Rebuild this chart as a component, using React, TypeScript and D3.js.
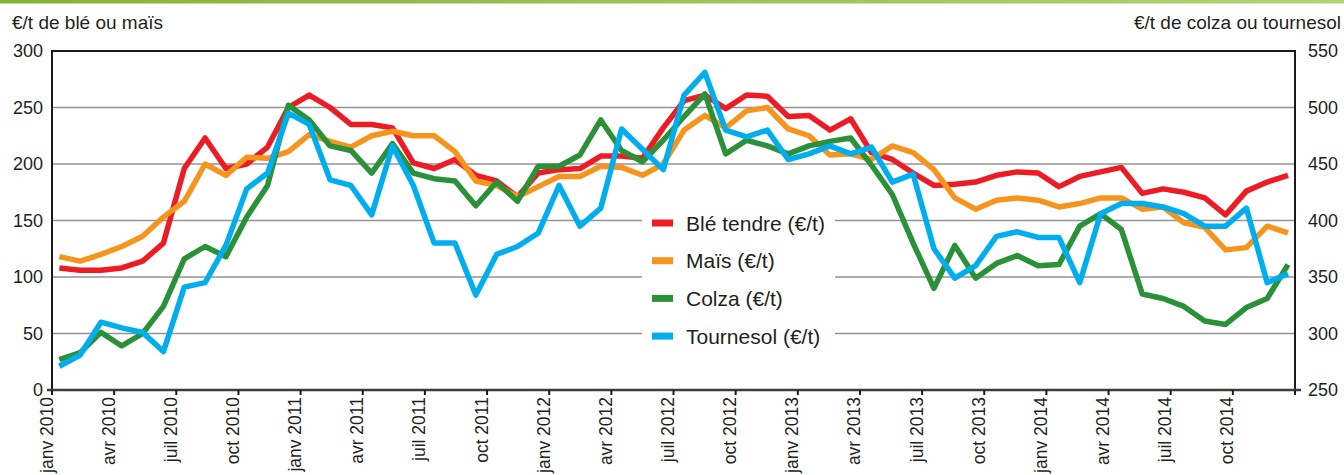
import React from "react";
import * as d3 from "d3";

// monthly prices, janv 2010 .. déc 2014
const quarterLabels = [
  "janv 2010", "avr 2010", "juil 2010", "oct 2010",
  "janv 2011", "avr 2011", "juil 2011", "oct 2011",
  "janv 2012", "avr 2012", "juil 2012", "oct 2012",
  "janv 2013", "avr 2013", "juil 2013", "oct 2013",
  "janv 2014", "avr 2014", "juil 2014", "oct 2014",
];

const ble = [
  108, 106, 106, 108, 114, 130, 196, 223, 196, 200, 215, 250,
  261, 250, 235, 235, 232, 201, 196, 204, 190, 185, 171, 192,
  195, 196, 207, 207, 205, 232, 256, 261, 249, 261, 260, 242,
  243, 230, 240, 210, 204, 192, 181, 182, 184, 190, 193, 192,
  180, 189, 193, 197, 174, 178, 175, 170, 155, 176, 184, 190,
];

const mais = [
  118, 114, 120, 127, 136, 153, 167, 200, 190, 206, 205, 211,
  226, 220, 215, 225, 229, 225, 225, 211, 185, 181, 171, 180,
  189, 189, 198, 197, 190, 200, 230, 243, 232, 247, 250, 231,
  225, 208, 209, 204, 216, 210, 195, 170, 160, 168, 170, 168,
  162, 165, 170, 170, 160, 162, 148, 144, 124, 126, 145, 139,
];

const colza = [
  277, 283, 301, 289, 300, 324, 366, 377, 368, 403, 431, 502,
  489, 466, 462, 442, 468, 442, 437, 435, 413, 434, 417, 448,
  448, 458, 489, 462, 452, 471, 492, 512, 459, 471, 466, 459,
  466, 470, 473, 449, 423, 380, 340, 378, 349, 362, 369, 360,
  361, 395, 406, 392, 335, 331, 324, 311, 308, 323, 331, 361,
];

const tournesol = [
  271, 281, 310, 305, 301, 284, 341, 345, 378, 428, 442, 495,
  485, 436, 431, 405, 466, 431, 380, 380, 334, 370, 377, 389,
  431, 395, 411, 481, 463, 445, 511, 531, 480, 474, 480, 454,
  459, 466, 459, 465, 434, 441, 375, 349, 360, 386, 390, 385,
  385, 345, 406, 415, 415, 412, 406, 395, 395, 411, 345, 353,
];

const series = [
  { name: "Blé tendre (€/t)", values: ble, axis: "left", color: "#ed1c24" },
  { name: "Maïs (€/t)", values: mais, axis: "left", color: "#f7941d" },
  { name: "Colza (€/t)", values: colza, axis: "right", color: "#2a9138" },
  { name: "Tournesol (€/t)", values: tournesol, axis: "right", color: "#00aeef" },
];

const FONT = "'Liberation Sans', Arial, Helvetica, sans-serif";
const TEXT = "#231f20";

export default function App() {
  const width = 1344;
  const height = 475;
  const left = 52;
  const right = 1295;
  const top = 51;
  const bottom = 390;

  const xMonth = d3.scaleLinear().domain([0, 60]).range([left, right]);
  const xPoint = d3.scaleLinear().domain([0, 59]).range([59.3, 1288]);
  const yLeft = d3.scaleLinear().domain([0, 300]).range([bottom, top]);
  const yRight = d3.scaleLinear().domain([250, 550]).range([bottom, top]);

  const line = (vals: number[], y: d3.ScaleLinear<number, number>) =>
    d3
      .line<number>()
      .x((_, i) => xPoint(i))
      .y((d) => y(d))(vals) as string;

  const leftTicks = yLeft.ticks(6);
  const rightTicks = yRight.ticks(6);
  const quarterIdx = d3.range(0, 61, 3);

  // legend box
  const lg = { x: 642, y: 198, w: 193, h: 156 };

  return (
    <svg
      width={width}
      height={height}
      style={{ position: "absolute", left: 0, top: 0, background: "#fff" }}
      fontFamily={FONT}
    >
      <defs>
        <linearGradient id="band" x1="0" x2="1" y1="0" y2="0">
          <stop offset="0" stopColor="#86b13a" />
          <stop offset="1" stopColor="#b4d174" />
        </linearGradient>
      </defs>
      <rect x={0} y={0} width={width} height={3.5} fill="url(#band)" />

      <text x={12} y={29} fontSize={19} fill={TEXT}>
        €/t de blé ou maïs
      </text>
      <text x={1341} y={29} fontSize={19} fill={TEXT} textAnchor="end">
        €/t de colza ou tournesol
      </text>

      {/* grid */}
      {leftTicks
        .filter((t) => t > 0 && t < 300)
        .map((t) => (
          <line
            key={"g" + t}
            x1={left}
            x2={right}
            y1={yLeft(t)}
            y2={yLeft(t)}
            stroke="#939393"
            strokeWidth={1.6}
          />
        ))}

      {/* frame */}
      <line x1={left} x2={right} y1={top} y2={top} stroke="#1a1a1a" strokeWidth={2} />
      <line x1={left} x2={left} y1={top - 1} y2={bottom} stroke="#1a1a1a" strokeWidth={2} />
      <line x1={right} x2={right} y1={top - 1} y2={bottom} stroke="#1a1a1a" strokeWidth={2} />

      {/* left labels */}
      {leftTicks.map((t) => (
        <text
          key={"l" + t}
          x={43}
          y={yLeft(t)}
          dy="0.36em"
          fontSize={18}
          fill={TEXT}
          textAnchor="end"
        >
          {t}
        </text>
      ))}
      {rightTicks.map((t) => (
        <text key={"r" + t} x={1308} y={yRight(t)} dy="0.36em" fontSize={18} fill={TEXT}>
          {t}
        </text>
      ))}

      {/* series */}
      {series.map((s) => (
        <path
          key={s.name}
          d={line(s.values, s.axis === "left" ? yLeft : yRight)}
          fill="none"
          stroke={s.color}
          strokeWidth={5.5}
          strokeLinejoin="round"
        />
      ))}

      {/* x axis */}
      <line x1={47} x2={1301} y1={bottom} y2={bottom} stroke="#3c3c3c" strokeWidth={2.5} />
      {quarterIdx.map((q) => (
        <line
          key={"t" + q}
          x1={xMonth(q)}
          x2={xMonth(q)}
          y1={bottom}
          y2={bottom + 5}
          stroke="#1a1a1a"
          strokeWidth={2}
        />
      ))}
      {quarterLabels.map((lab, i) => (
        <text
          key={lab}
          transform={`translate(${xMonth(i * 3) + 0.5},397) rotate(-90)`}
          fontSize={17.5}
          fill={TEXT}
          textAnchor="end"
        >
          {lab}
        </text>
      ))}

      {/* legend */}
      <rect x={lg.x} y={lg.y} width={lg.w} height={lg.h} fill="#fff" />
      {series.map((s, i) => {
        const cy = 223 + i * 37.7;
        return (
          <g key={"lg" + s.name}>
            <rect x={652} y={cy - 3.5} width={21} height={7} fill={s.color} />
            <text x={686} y={cy} dy="0.36em" fontSize={21} fill={TEXT}>
              {s.name}
            </text>
          </g>
        );
      })}
    </svg>
  );
}
